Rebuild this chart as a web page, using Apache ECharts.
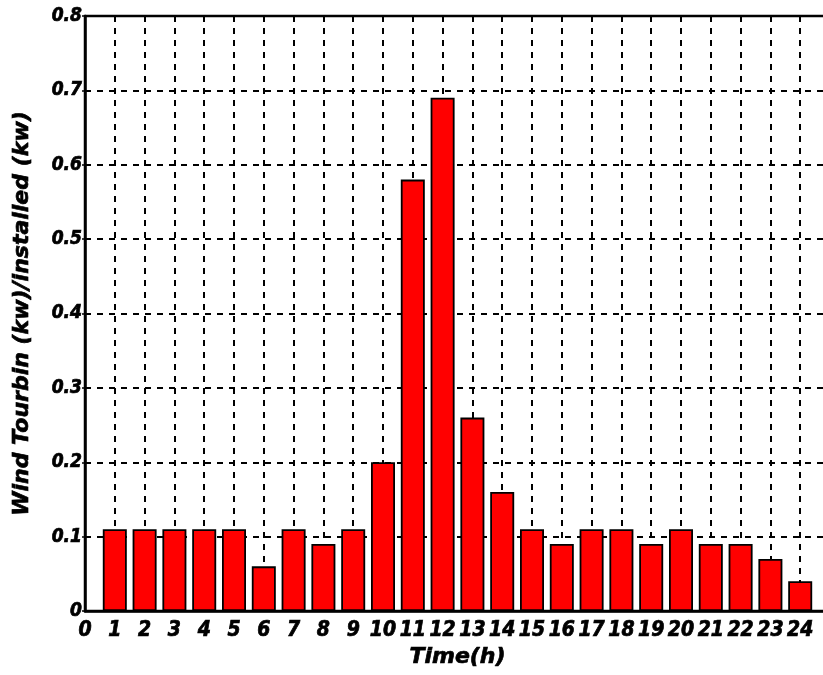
<!DOCTYPE html>
<html>
<head>
<meta charset="utf-8">
<script src="https://cdn.jsdelivr.net/npm/echarts@6/dist/echarts.min.js"></script>
<style>
html,body{margin:0;padding:0;background:#fff;}
#chart{width:823px;height:675px;}
</style>
</head>
<body>
<div id="chart"></div>
<script>
const hours = [1,2,3,4,5,6,7,8,9,10,11,12,13,14,15,16,17,18,19,20,21,22,23,24];
const windRatio = [0.11,0.11,0.11,0.11,0.11,0.06,0.11,0.09,0.11,0.20,0.58,0.69,0.26,0.16,0.11,0.09,0.11,0.11,0.09,0.11,0.09,0.09,0.07,0.04];
const xTitle = 'Time(h)';
const yTitle = 'Wind Tourbin (kw)/installed (kw)';

const FONT = '"DejaVu Sans Condensed","DejaVu Sans",sans-serif';
const FONTW = '"DejaVu Sans",sans-serif';
const chart = echarts.init(document.getElementById('chart'), null, {renderer:'canvas'});
const dashed = {color:'#000', type:[6,6], width:2};
const heavy = {textBorderColor:'#000', textBorderWidth:0.7};
chart.setOption({
  animation:false,
  backgroundColor:'#fff',
  grid:{left:85, top:16, width:745, height:595, containLabel:false, outerBoundsMode:'none',
    show:true, borderColor:'#000', borderWidth:2.5, backgroundColor:'transparent'},
  xAxis:{
    type:'value', min:0, max:25, interval:1,
    name:xTitle, nameLocation:'middle', nameGap:35,
    nameTextStyle:Object.assign({fontFamily:FONTW, fontWeight:'bold', fontStyle:'italic', fontSize:22, color:'#000'}, heavy),
    axisLine:{show:true, lineStyle:{color:'#000', width:2.5}},
    axisTick:{show:false},
    axisLabel:Object.assign({fontFamily:FONT, fontWeight:'bold', fontStyle:'italic', fontSize:21, color:'#000', margin:9,
      formatter:v=> (Number.isInteger(v) && v<=24) ? String(v) : ''}, heavy),
    splitLine:{show:true, lineStyle:dashed}
  },
  yAxis:{
    type:'value', min:0, max:0.8, interval:0.1,
    name:yTitle, nameLocation:'middle', nameGap:52,
    nameTextStyle:Object.assign({fontFamily:FONTW, fontWeight:'bold', fontStyle:'italic', fontSize:22, color:'#000'}, heavy),
    axisLine:{show:true, lineStyle:{color:'#000', width:2.5}},
    axisTick:{show:true, inside:false, length:3, lineStyle:{color:'#000', width:1.5}},
    axisLabel:Object.assign({fontFamily:FONT, fontWeight:'bold', fontStyle:'italic', fontSize:19, color:'#000', margin:3,
      formatter:v=> v===0 ? '0' : v.toFixed(1)}, heavy),
    splitLine:{show:true, lineStyle:dashed}
  },
  series:[{
    type:'bar',
    data:hours.map((h,i)=>[h, windRatio[i]]),
    barWidth:24,
    itemStyle:{color:'#ff0000', borderColor:'#000', borderWidth:1.8}
  }]
});
</script>
</body>
</html>
